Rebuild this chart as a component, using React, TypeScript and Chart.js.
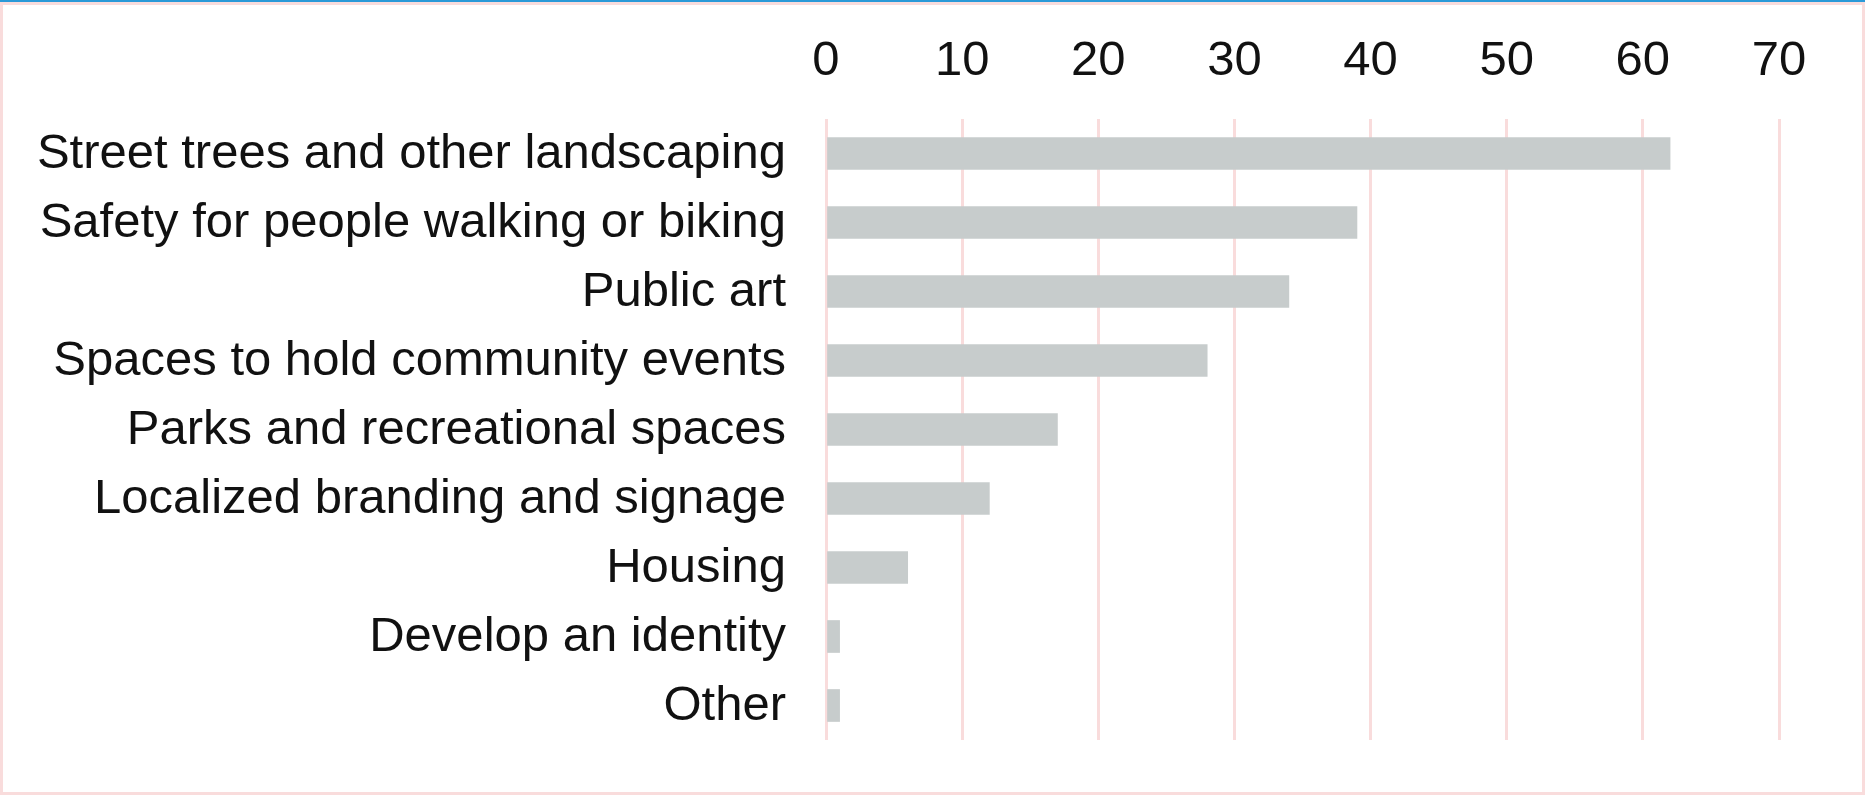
import React, { useEffect, useRef } from "react";
import { Chart, registerables } from "chart.js";

Chart.register(...registerables);

const categories = [
  "Street trees and other landscaping",
  "Safety for people walking or biking",
  "Public art",
  "Spaces to hold community events",
  "Parks and recreational spaces",
  "Localized branding and signage",
  "Housing",
  "Develop an identity",
  "Other",
];

const values = [62, 39, 34, 28, 17, 12, 6, 1, 1];

const tickValues = [0, 10, 20, 30, 40, 50, 60, 70];

const FONT = "'Liberation Sans', Arial, sans-serif";

export default function App() {
  const ref = useRef<HTMLCanvasElement>(null);

  useEffect(() => {
    if (!ref.current) return;
    const chart = new Chart(ref.current, {
      type: "bar",
      data: {
        labels: categories,
        datasets: [
          {
            data: values,
            backgroundColor: "#c7cccc",
            borderWidth: 0,
            barThickness: 32,
          },
        ],
      },
      options: {
        indexAxis: "y",
        responsive: false,
        animation: false,
        devicePixelRatio: 1,
        layout: { padding: { left: 0, right: 86, top: 19, bottom: 55 } },
        plugins: {
          legend: { display: false },
          tooltip: { enabled: false },
        },
        scales: {
          x: {
            position: "top",
            min: 0,
            max: 70,
            afterBuildTicks: (s: any) => {
              s.ticks = tickValues.map((v) => ({ value: v }));
            },
            afterFit: (s: any) => {
              s.height = 100;
              s.paddingLeft = 0;
              s.paddingRight = 0;
            },
            grid: { color: "#f9dcdc", lineWidth: 3, drawTicks: false },
            border: { display: false },
            ticks: {
              font: { family: FONT, size: 49 },
              color: "#111111",
              padding: 28,
              maxRotation: 0,
            },
          },
          y: {
            afterFit: (s: any) => {
              s.width = 826;
              s.paddingTop = 0;
              s.paddingBottom = 0;
            },
            grid: { display: false },
            border: { display: false },
            ticks: {
              font: { family: FONT, size: 49 },
              color: "#111111",
              padding: 32,
              labelOffset: 1,
            },
          },
        },
      },
    });
    return () => chart.destroy();
  }, []);

  return (
    <div
      style={{
        position: "absolute",
        left: 0,
        top: 0,
        width: 1865,
        height: 795,
        background: "#ffffff",
        overflow: "hidden",
      }}
    >
      <canvas
        ref={ref}
        width={1865}
        height={795}
        style={{ position: "absolute", left: 0, top: 0, width: 1865, height: 795 }}
      />
      <div
        style={{
          position: "absolute",
          left: 0,
          top: 0,
          width: 1865,
          height: 795,
          boxSizing: "border-box",
          border: "3px solid #f9dcdc",
          borderTop: "5px solid #f9dcdc",
          pointerEvents: "none",
        }}
      />
      <div
        style={{
          position: "absolute",
          left: 0,
          top: 0,
          width: 1865,
          height: 2,
          background: "#2a9ad8",
          pointerEvents: "none",
        }}
      />
    </div>
  );
}
